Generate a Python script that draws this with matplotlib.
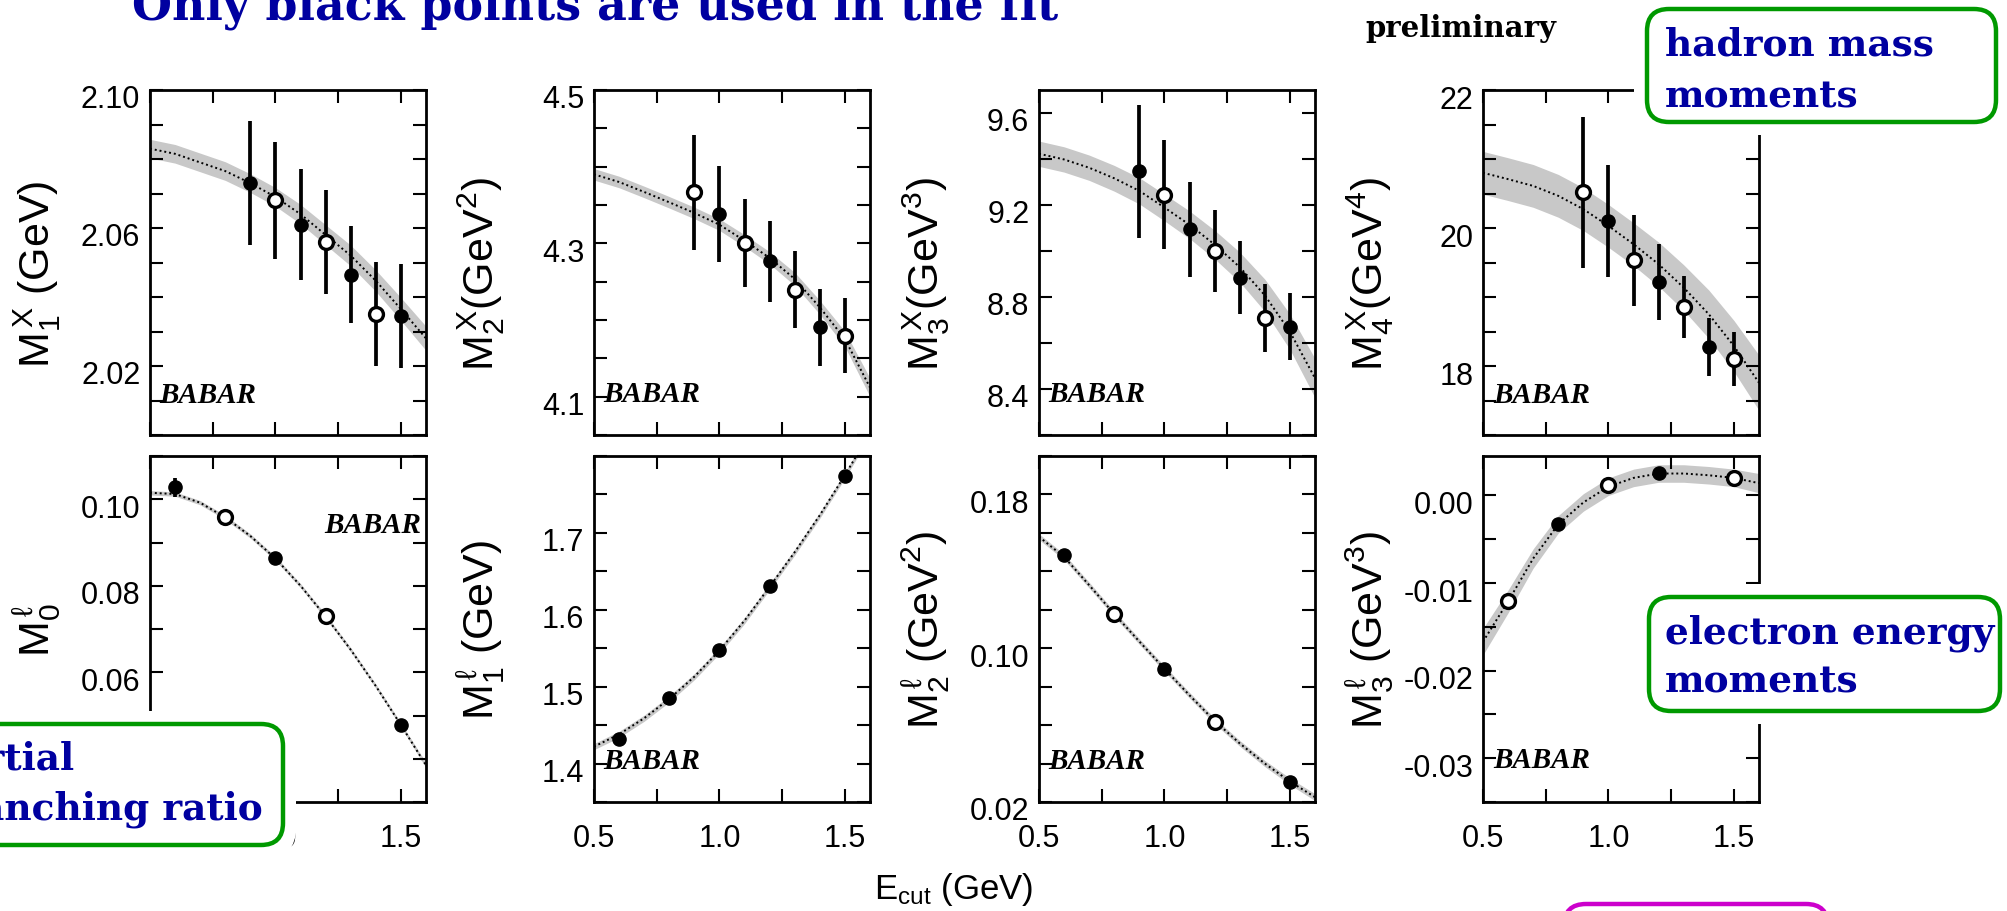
import numpy as np
import matplotlib
matplotlib.use("Agg")
import matplotlib.pyplot as plt
from matplotlib.patches import FancyBboxPatch
from matplotlib.transforms import IdentityTransform, ScaledTranslation
from matplotlib.ticker import MultipleLocator

W, H = 2007, 912

# ---- data ----
x_hadron = [0.9, 1.0, 1.1, 1.2, 1.3, 1.4, 1.5]
x_lepton = [0.6, 0.8, 1.0, 1.2, 1.5]
x_fit = [0.5, 0.6, 0.7, 0.8, 0.9, 1.0, 1.1, 1.2, 1.3, 1.4, 1.5, 1.6]

m1x = [2.073, 2.068, 2.061, 2.056, 2.0465, 2.035, 2.0345]
m1x_err = [0.018, 0.017, 0.016, 0.015, 0.014, 0.015, 0.015]
m1x_open = [0, 1, 0, 1, 0, 1, 0]
m1x_fit = [2.083, 2.0815, 2.079, 2.0765, 2.073, 2.069, 2.064, 2.058, 2.052, 2.0447, 2.0365, 2.028]
m1x_band = [0.0027, 0.0027, 0.0027, 0.0027, 0.0027, 0.0027, 0.0028, 0.0029, 0.003, 0.0031, 0.0033, 0.0035]

m2x = [4.3665, 4.338, 4.3004, 4.2765, 4.2396, 4.1904, 4.1796]
m2x_err = [0.075, 0.063, 0.058, 0.053, 0.050, 0.050, 0.049]
m2x_open = [1, 0, 1, 0, 1, 0, 1]
m2x_fit = [4.390, 4.380, 4.367, 4.3535, 4.3396, 4.3243, 4.3035, 4.281, 4.2535, 4.2165, 4.1752, 4.112]
m2x_band = [0.0075, 0.0075, 0.0075, 0.0075, 0.0075, 0.0075, 0.0078, 0.008, 0.0085, 0.009, 0.01, 0.012]

m3x = [9.346, 9.244, 9.094, 9.0006, 8.884, 8.7095, 8.670]
m3x_err = [0.29, 0.237, 0.205, 0.177, 0.16, 0.148, 0.146]
m3x_open = [0, 1, 0, 1, 0, 1, 0]
m3x_fit = [9.423, 9.398, 9.362, 9.316, 9.2614, 9.189, 9.114, 9.028, 8.930, 8.8075, 8.649, 8.447]
m3x_band = [0.055, 0.055, 0.055, 0.056, 0.057, 0.058, 0.06, 0.062, 0.065, 0.07, 0.077, 0.085]

m4x = [20.515, 20.103, 19.533, 19.218, 18.86, 18.275, 18.105]
m4x_err = [1.096, 0.81, 0.66, 0.55, 0.45, 0.42, 0.39]
m4x_open = [1, 0, 1, 0, 1, 0, 1]
m4x_fit = [20.80, 20.708, 20.61, 20.466, 20.273, 20.03, 19.765, 19.475, 19.136, 18.75, 18.29, 17.757]
m4x_band = [0.31, 0.31, 0.31, 0.31, 0.31, 0.31, 0.31, 0.32, 0.33, 0.35, 0.37, 0.40]

m0l = [0.10279, 0.09582, 0.08631, 0.07292, 0.04778]
m0l_err = [0.0022, 0.0005, 0.0005, 0.0004, 0.0004]
m0l_open = [0, 1, 0, 1, 0]
m0l_fit = [0.1015, 0.1012, 0.0992, 0.0958, 0.0915, 0.0863, 0.0800, 0.0729, 0.0652, 0.0568, 0.0478, 0.0385]
m0l_band = [0.0005, 0.0005, 0.0005, 0.0005, 0.0005, 0.0005, 0.0005, 0.0005, 0.0005, 0.0005, 0.0005, 0.0006]

m1l = [1.4317, 1.4848, 1.5483, 1.6304, 1.7743]
m1l_err = [0.003, 0.003, 0.003, 0.003, 0.003]
m1l_open = [0, 0, 0, 0, 0]
m1l_fit = [1.422, 1.438, 1.459, 1.484, 1.513, 1.547, 1.586, 1.630, 1.675, 1.723, 1.775, 1.830]
m1l_band = [0.004, 0.004, 0.004, 0.004, 0.004, 0.004, 0.004, 0.004, 0.004, 0.004, 0.004, 0.004]

m2l = [0.14835, 0.11757, 0.08922, 0.06174, 0.03043]
m2l_err = [0.002, 0.001, 0.001, 0.001, 0.001]
m2l_open = [0, 1, 0, 1, 0]
m2l_fit = [0.158, 0.1475, 0.1328, 0.1178, 0.1035, 0.0893, 0.0755, 0.0622, 0.0505, 0.0400, 0.0307, 0.0225]
m2l_band = [0.0015, 0.0015, 0.0015, 0.0015, 0.0015, 0.0015, 0.0015, 0.0015, 0.0015, 0.0016, 0.0017, 0.0018]

m3l = [-0.01205, -0.00323, 0.00114, 0.00259, 0.00202]
m3l_err = [0.0003, 0.0003, 0.0003, 0.0003, 0.0003]
m3l_open = [1, 0, 1, 0, 1]
m3l_fit = [-0.0167, -0.0121, -0.0072, -0.0033, -0.0008, 0.0010, 0.0020, 0.0025, 0.0025, 0.0023, 0.0020, 0.0014]
m3l_band = [0.0015, 0.0013, 0.0011, 0.001, 0.001, 0.001, 0.001, 0.001, 0.001, 0.001, 0.001, 0.0011]

x_ticks = [0.5, 1.0, 1.5]
x_ticklabels = ["0.5", "1.0", "1.5"]

panels = [
    # row, col, x, y, err, open, fit, band, ylim, yticks, yticklabels, minor, label, babar(x, y, ha)
    (0, 0, x_hadron, m1x, m1x_err, m1x_open, m1x_fit, m1x_band, (2.00, 2.10),
     [2.02, 2.06, 2.10], ["2.02", "2.06", "2.10"], 0.01,
     r"$\mathrm{M_1^{\,X}\ (GeV)}$", (0.535, 2.0096, "left")),
    (0, 1, x_hadron, m2x, m2x_err, m2x_open, m2x_fit, m2x_band, (4.05, 4.5),
     [4.1, 4.3, 4.5], ["4.1", "4.3", "4.5"], 0.05,
     r"$\mathrm{M_2^{\,X}(GeV^2)}$", (0.535, 4.094, "left")),
    (0, 2, x_hadron, m3x, m3x_err, m3x_open, m3x_fit, m3x_band, (8.2, 9.7),
     [8.4, 8.8, 9.2, 9.6], ["8.4", "8.8", "9.2", "9.6"], 0.2,
     r"$\mathrm{M_3^{\,X}(GeV^3)}$", (0.535, 8.349, "left")),
    (0, 3, x_hadron, m4x, m4x_err, m4x_open, m4x_fit, m4x_band, (17, 22),
     [18, 20, 22], ["18", "20", "22"], 0.5,
     r"$\mathrm{M_4^{\,X}(GeV^4)}$", (0.542, 17.477, "left")),
    (1, 0, x_lepton, m0l, m0l_err, m0l_open, m0l_fit, m0l_band, (0.03, 0.11),
     [0.04, 0.06, 0.08, 0.10], ["0.04", "0.06", "0.08", "0.10"], 0.01,
     r"$\mathrm{M_0^{\,\ell}}$", (1.58, 0.0925, "right")),
    (1, 1, x_lepton, m1l, m1l_err, m1l_open, m1l_fit, m1l_band, (1.35, 1.80),
     [1.4, 1.5, 1.6, 1.7], ["1.4", "1.5", "1.6", "1.7"], 0.05,
     r"$\mathrm{M_1^{\,\ell}\ (GeV)}$", (0.535, 1.3948, "left")),
    (1, 2, x_lepton, m2l, m2l_err, m2l_open, m2l_fit, m2l_band, (0.02, 0.20),
     [0.02, 0.10, 0.18], ["0.02", "0.10", "0.18"], 0.02,
     r"$\mathrm{M_2^{\,\ell}\ (GeV^2)}$", (0.535, 0.0379, "left")),
    (1, 3, x_lepton, m3l, m3l_err, m3l_open, m3l_fit, m3l_band, (-0.035, 0.0045),
     [-0.03, -0.02, -0.01, 0.00], ["-0.03", "-0.02", "-0.01", "0.00"], 0.005,
     r"$\mathrm{M_3^{\,\ell}\ (GeV^3)}$", (0.542, -0.031, "left")),
]

plt.rcParams["font.family"] = ["Liberation Sans", "DejaVu Sans"]
plt.rcParams["mathtext.fontset"] = "custom"
plt.rcParams["mathtext.rm"] = "Liberation Sans"
plt.rcParams["mathtext.it"] = "Liberation Sans:italic"
plt.rcParams["mathtext.bf"] = "Liberation Sans:bold"

fig = plt.figure(figsize=(W / 100, H / 100), dpi=100)

lefts = [150, 594, 1039, 1483]
rows = [(91, 436), (457, 803)]
ax_w = 276
label_shift = ScaledTranslation(0, -6 / 100, fig.dpi_scale_trans)

for (r, c, xs, ys, errs, opens, fit, band, ylim, yt, ytl, minor, label, babar) in panels:
    top, bot = rows[r]
    ax = fig.add_axes([lefts[c] / W, 1 - bot / H, ax_w / W, (bot - top) / H])
    fit = np.array(fit)
    band = np.array(band)
    ax.fill_between(x_fit, fit - band, fit + band, color="#c8c8c8", lw=0, zorder=1)
    ax.plot(x_fit, fit, color="black", lw=1.4, ls=(0, (1, 1.5)), zorder=2)
    ax.errorbar(xs, ys, yerr=errs, fmt="none", ecolor="black", elinewidth=2.7, capsize=0, zorder=3)
    xs = np.array(xs)
    ys = np.array(ys)
    op = np.array(opens) == 1
    ax.plot(xs[~op], ys[~op], "o", ms=9.5, mfc="black", mec="black", zorder=4)
    ax.plot(xs[op], ys[op], "o", ms=10, mfc="white", mec="black", mew=2.4, zorder=4)

    ax.set_xlim(0.5, 1.6)
    ax.set_ylim(*ylim)
    ax.set_xticks(x_ticks, x_ticklabels if r == 1 else [])
    ax.xaxis.set_minor_locator(MultipleLocator(0.25))
    ax.set_yticks(yt, ytl)
    ax.yaxis.set_minor_locator(MultipleLocator(minor))
    ax.tick_params(which="both", direction="in", top=True, right=True,
                   length=9.5, width=1.5, labelsize=22)
    ax.tick_params(axis="x", pad=15)
    ax.tick_params(axis="y", pad=7)
    for t in ax.get_yticklabels():
        t.set_transform(t.get_transform() + label_shift)
    for s in ax.spines.values():
        s.set_linewidth(2)

    ax.set_ylabel(label, fontsize=31)
    ax.yaxis.label.set_va("center")
    ax.yaxis.set_label_coords(-0.41, 0.47 if r == 0 else 0.5)

    ax.text(babar[0], babar[1], "BABAR", ha=babar[2], va="baseline", fontsize=21,
            family="Liberation Serif", style="italic", weight="bold", zorder=5)

fig.text(954 / W, 1 - 890 / H, r"$\mathrm{E_{cut}\ (GeV)}$", ha="center", va="center", fontsize=25)

blue = "#0000a0"
green = "#009900"
serif = "DejaVu Serif"


def round_box(x0, y0, x1, y1, color):
    # pixel coordinates with the origin at the top-left corner
    back = FancyBboxPatch((x0, H - y1), x1 - x0, y1 - y0,
                          boxstyle="round,pad=13,rounding_size=30",
                          transform=IdentityTransform(), fc="white", ec="none", zorder=5)
    edge = FancyBboxPatch((x0, H - y1), x1 - x0, y1 - y0,
                          boxstyle="round,pad=0,rounding_size=22",
                          transform=IdentityTransform(), fc="white", ec=color, lw=3.2, zorder=6)
    fig.add_artist(back)
    fig.add_artist(edge)


def box_text(x, y, s, **kw):
    fig.text(x / W, 1 - y / H, s, va="baseline", fontsize=27, family=serif,
             weight="bold", color=blue, zorder=7, **kw)


fig.text(132 / W, 1 - 20 / H, "Only black points are used in the fit", va="baseline",
         fontsize=33, family=serif, weight="bold", color=blue)
fig.text(1556 / W, 1 - 37 / H, "preliminary", ha="right", va="baseline", fontsize=21,
         family=serif, weight="bold", color="black")

round_box(1647, 10, 1996, 123, green)
box_text(1665, 55, "hadron mass")
box_text(1665, 107, "moments")

round_box(1649, 598, 2000, 712, green)
box_text(1665, 643, "electron energy")
box_text(1665, 693, "moments")

round_box(-80, 725, 283, 846, green)
line2 = fig.text(263 / W, 1 - 820 / H, "branching ratio", ha="right", va="baseline",
                 fontsize=27, family=serif, weight="bold", color=blue, zorder=7)
fig.canvas.draw()
x_start = line2.get_window_extent().x0
box_text(x_start, 770, "partial")

round_box(1564, 905, 1828, 980, "#cc00cc")

fig.savefig("out.png", dpi=100)
